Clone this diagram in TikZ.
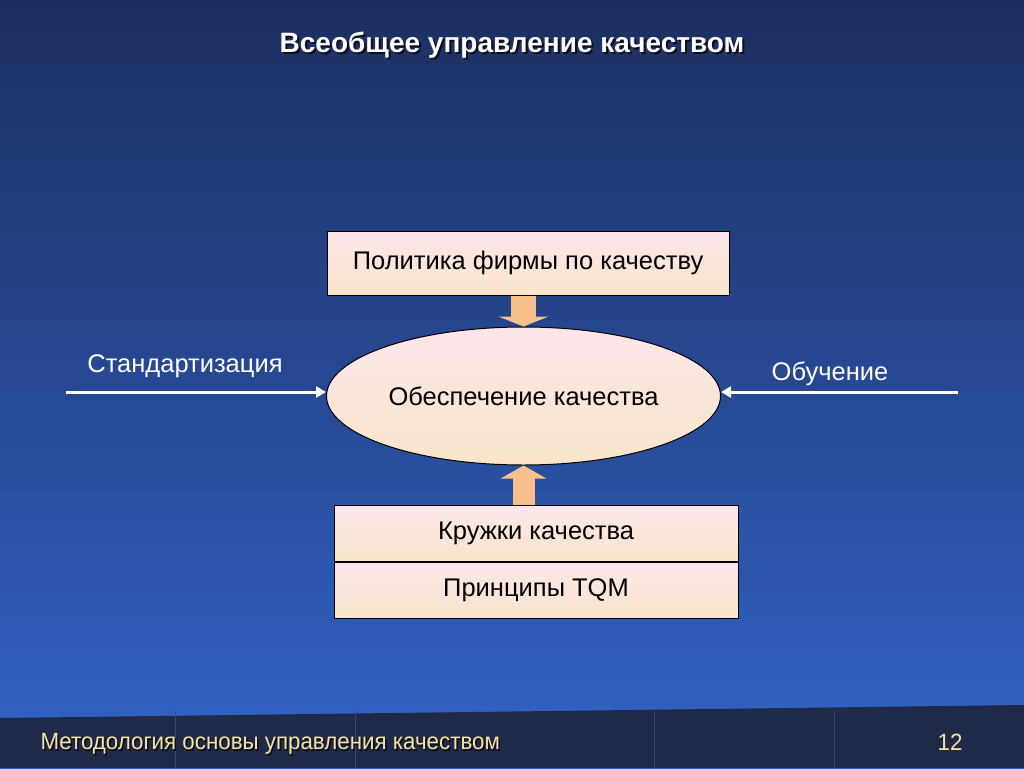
\documentclass[tikz,border=0pt]{standalone}
\usepackage{fontspec}
\setmainfont{Liberation Sans}
\newfontfamily\narrowfont[FakeStretch=0.95]{Liberation Sans}
\usetikzlibrary{arrows.meta,shapes.geometric,positioning}

\definecolor{bgtop}{RGB}{28,46,96}
\definecolor{bgbot}{RGB}{50,100,200}
\definecolor{footbg}{RGB}{31,42,72}
\definecolor{footline}{RGB}{54,74,122}
\definecolor{boxpink}{RGB}{252,230,235}
\definecolor{boxpeach}{RGB}{250,229,203}
\definecolor{blockarr}{RGB}{250,192,140}
\definecolor{foottext}{RGB}{246,228,160}
\definecolor{shadowcol}{RGB}{10,14,30}

\begin{document}
\begin{tikzpicture}[x=1pt,y=-1pt,
  box/.style={draw=black,line width=1pt,top color=boxpink,bottom color=boxpeach,
    inner sep=0pt,font=\fontsize{25.5}{30}\selectfont},
  blockarrow/.style={color=blockarr,line width=25pt,
    -{Triangle[width=50pt,length=10pt]}},
  wline/.style={white,line width=3pt,-{Triangle[width=11pt,length=10pt]}},
  lbl/.style={white,font=\fontsize{25.5}{30}\selectfont},
  titlefont/.style={font=\bfseries\fontsize{28}{33}\selectfont},
  footfont/.style={font=\narrowfont\fontsize{23.5}{28}\selectfont}]

% background
\shade[top color=bgtop,bottom color=bgbot] (0,0) rectangle (1024,768);
\fill[footbg] (0,718) -- (1024,705) -- (1024,768) -- (0,768) -- cycle;
\foreach \x in {175,355,654,834}
  \draw[footline,line width=0.8pt] (\x,768) -- (\x,711);

\node[shadowcol,titlefont] (titleshadow) at (514,47) {Всеобщее управление качеством};
\node[white,titlefont] (title) at (512,45) {Всеобщее управление качеством};

\node[box,minimum width=402pt,minimum height=64pt] (policy) at (528,263)
  {Политика фирмы по качеству};
\node[box,ellipse,minimum width=394pt,minimum height=138pt] (quality) at (523.5,396)
  {Обеспечение качества};
\node[box,minimum width=404pt,minimum height=56pt] (circles) at (536,533)
  {Кружки качества};
\node[box,minimum width=404pt,minimum height=56pt,below=0pt of circles] (tqm)
  {Принципы TQM};

\draw[blockarrow] (quality.north |- policy.south) -- (quality.north);
\draw[blockarrow,line width=22pt,-{Triangle[width=45pt,length=13pt]}]
  (quality.south |- circles.north) -- (quality.south);

\coordinate (stdfrom) at (66,392);
\coordinate (edufrom) at (958,392);
\draw[wline] (stdfrom) -- (stdfrom -| quality.west);
\draw[wline] (edufrom) -- (edufrom -| quality.east);
\node[lbl] (std) at (185,366) {Стандартизация};
\node[lbl] (edu) at (830,374) {Обучение};

\node[shadowcol,footfont,anchor=west] (footshadow) at (38.5,745.5)
  {Методология основы управления качеством};
\node[foottext,footfont,anchor=west] (foot) at (37,744)
  {Методология основы управления качеством};
\node[foottext,footfont] (page) at (950,742) {12};
\end{tikzpicture}
\end{document}
